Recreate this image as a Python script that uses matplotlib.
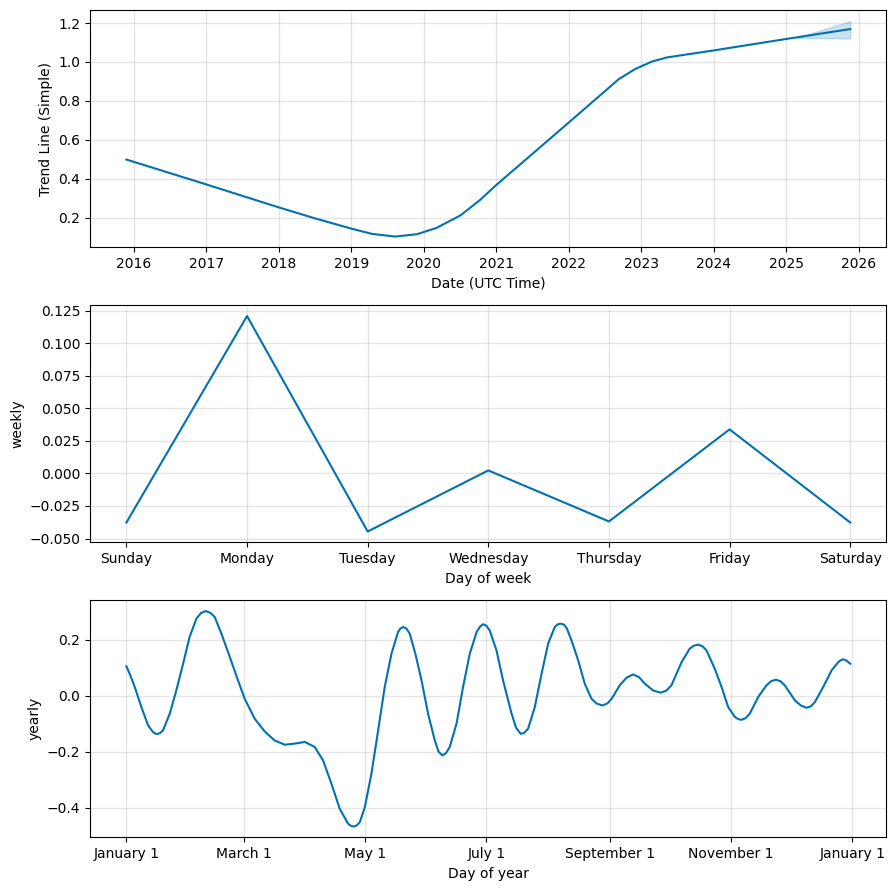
import numpy as np
import pandas as pd
import matplotlib
matplotlib.use('Agg')
import matplotlib.pyplot as plt
import matplotlib.dates as mdates
from matplotlib.ticker import FuncFormatter

# trend
trend_dates = ['2015-11-25', '2017-01-01', '2018-01-01', '2018-07-01', '2019-01-01',
               '2019-04-15', '2019-08-10', '2019-11-28', '2020-03-05', '2020-07-05',
               '2020-10-10', '2021-01-01', '2022-01-01', '2022-09-10', '2022-12-01',
               '2023-02-25', '2023-05-10', '2024-01-01', '2025-01-01', '2025-11-20']
trend_values = [0.498, 0.370, 0.252, 0.196, 0.143,
                0.116, 0.102, 0.114, 0.146, 0.211,
                0.289, 0.367, 0.688, 0.911, 0.963,
                1.002, 1.023, 1.059, 1.118, 1.169]

# uncertainty band at the end of the trend
band_dates = ['2025-02-25', '2025-07-01', '2025-11-20']
band_lower = [1.124, 1.122, 1.121]
band_upper = [1.125, 1.165, 1.210]

# weekly seasonality
week_days = ['Sunday', 'Monday', 'Tuesday', 'Wednesday', 'Thursday', 'Friday', 'Saturday']
weekly_values = [-0.0377, 0.1208, -0.0446, 0.0023, -0.0369, 0.0338, -0.0377]

# yearly seasonality: day of year (from Jan 1) and value
yearly_day = [0, 2, 4.2, 7.5, 10.9, 13.4, 14.5, 15.6, 17, 18.4, 21.8, 25.1, 28.5, 31.8,
              35.2, 37.5, 39.9, 42.2, 44.4, 47.8, 52, 56.1, 59.5, 64.5, 69.6, 74.6,
              79.6, 84.7, 89.7, 94.7, 98.9, 103.1, 107.3, 111.5, 112.8, 114.5, 116,
              117.4, 119.9, 123.2, 126.6, 129.9, 133.3, 136.6, 137.8, 139.1, 140.8,
              142.5, 145.3, 148.4, 151.7, 155.1, 157, 158.9, 160.7, 162.6, 166, 169.3,
              172.7, 176.1, 178, 179.4, 181, 182.7, 186.1, 189.4, 193.7, 196, 198.3,
              200, 202, 205.4, 208.8, 212.1, 215.4, 217, 218.5, 220, 221.5, 223.8,
              227.2, 230.5, 233.9, 236.5, 239.4, 242, 244, 248.1, 251.5, 254.8, 257.8,
              260.7, 265, 268.8, 271.5, 274.1, 279.2, 283.3, 285.5, 287.5, 289.6,
              291.7, 295.9, 299.3, 302.6, 306, 307.8, 309.4, 311.4, 313.5, 317.7,
              321.9, 324.3, 326.6, 328.9, 331.1, 336.2, 339.2, 342, 344.2, 346.2,
              350.4, 354.6, 358, 359.3, 360.5, 362.2, 364]
yearly_values = [0.105, 0.072, 0.031, -0.040, -0.106, -0.130, -0.135, -0.137, -0.133,
                 -0.124, -0.064, 0.019, 0.114, 0.210, 0.275, 0.295, 0.302, 0.296,
                 0.281, 0.221, 0.138, 0.055, -0.011, -0.082, -0.128, -0.160, -0.175,
                 -0.171, -0.165, -0.183, -0.231, -0.314, -0.404, -0.457, -0.464,
                 -0.467, -0.462, -0.451, -0.398, -0.279, -0.124, 0.031, 0.150, 0.227,
                 0.240, 0.245, 0.240, 0.221, 0.150, 0.055, -0.064, -0.160, -0.200,
                 -0.213, -0.205, -0.183, -0.100, 0.031, 0.150, 0.227, 0.248, 0.255,
                 0.250, 0.233, 0.162, 0.055, -0.064, -0.115, -0.136, -0.133, -0.118,
                 -0.040, 0.079, 0.186, 0.245, 0.255, 0.257, 0.254, 0.240, 0.198,
                 0.126, 0.043, -0.011, -0.028, -0.035, -0.027, -0.011, 0.037, 0.064,
                 0.076, 0.066, 0.043, 0.018, 0.011, 0.018, 0.037, 0.120, 0.168, 0.179,
                 0.182, 0.177, 0.162, 0.096, 0.031, -0.040, -0.076, -0.084, -0.086,
                 -0.080, -0.064, -0.005, 0.037, 0.052, 0.057, 0.052, 0.037, -0.017,
                 -0.035, -0.043, -0.038, -0.023, 0.031, 0.090, 0.120, 0.127, 0.130,
                 0.125, 0.114]

line_c = '#0072B2'

fig = plt.figure(figsize=(8.95, 8.9), dpi=100)
ax1 = fig.add_axes([0.1008, 0.7221, 0.8896, 0.2663])
ax2 = fig.add_axes([0.1008, 0.3907, 0.8896, 0.2663])
ax3 = fig.add_axes([0.1008, 0.0592, 0.8896, 0.2663])

# --- trend
ax1.plot(pd.to_datetime(trend_dates), trend_values, ls='-', c=line_c, lw=1.5)
ax1.fill_between(pd.to_datetime(band_dates), band_lower, band_upper, color=line_c, alpha=0.2)
ax1.xaxis.set_major_locator(mdates.YearLocator())
ax1.xaxis.set_major_formatter(mdates.DateFormatter('%Y'))
ax1.set_xlabel('Date (UTC Time)')
ax1.set_ylabel('Trend Line (Simple)')

# --- weekly
ax2.plot(range(len(week_days)), weekly_values, ls='-', c=line_c, lw=1.5)
ax2.set_xticks(range(len(week_days)))
ax2.set_xticklabels(week_days)
ax2.set_xlabel('Day of week')
ax2.set_ylabel('weekly')

# --- yearly
yr_dates = pd.Timestamp('2017-01-01') + pd.to_timedelta(yearly_day, unit='D')
ax3.plot(yr_dates, yearly_values, ls='-', c=line_c, lw=1.5, solid_joinstyle='round')
ax3.xaxis.set_major_locator(mdates.MonthLocator(bymonth=range(1, 13), bymonthday=1, interval=2))
ax3.xaxis.set_major_formatter(FuncFormatter(
    lambda x, pos=None: '{dt:%B} {dt.day}'.format(dt=mdates.num2date(x))))
ax3.set_xlabel('Day of year')
ax3.set_ylabel('yearly')

for ax in (ax1, ax2, ax3):
    ax.grid(True, which='major', c='gray', ls='-', lw=1, alpha=0.2)

fig.savefig('out.png', dpi=100)
